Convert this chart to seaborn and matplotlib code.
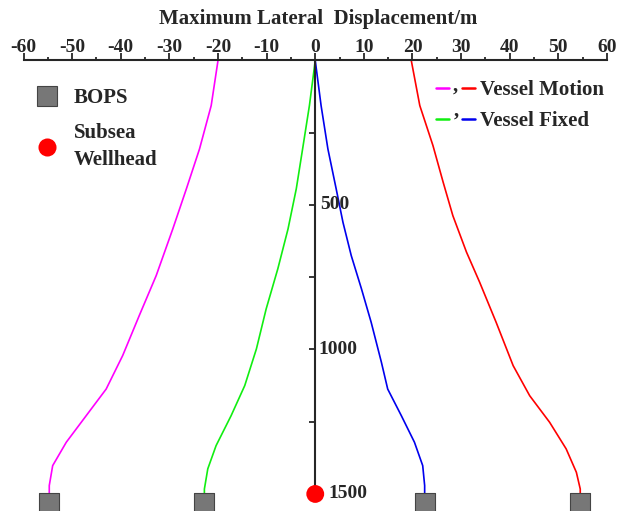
import numpy as np
import pandas as pd
import matplotlib
matplotlib.use("Agg")
import matplotlib.pyplot as plt
import seaborn as sns
from matplotlib.lines import Line2D
from matplotlib.legend_handler import HandlerTuple

# ── Data ──────────────────────────────────────────────────────────────────────
depth_red = [0, 156, 294, 421, 537, 663, 767, 906, 1056, 1160, 1252, 1344, 1425, 1483, 1500]
disp_red  = [19.75, 21.5, 24.2, 26.3, 28.3, 31.1, 33.8, 37.2, 40.7, 44.1, 48.2, 51.6, 53.7, 54.5, 54.5]

depth_magenta = [0, 156, 306, 444, 583, 744, 883, 1021, 1137, 1229, 1321, 1402, 1471, 1500]
disp_magenta  = [-20.0, -21.4, -23.8, -26.5, -29.3, -32.7, -36.2, -39.6, -43.0, -47.1, -51.2, -54.0, -54.7, -54.7]

depth_blue = [0, 156, 306, 444, 560, 675, 790, 906, 1044, 1137, 1229, 1321, 1402, 1471, 1500]
disp_blue  = [0.0, 1.2, 2.6, 4.3, 5.7, 7.4, 9.5, 11.5, 13.6, 14.9, 17.7, 20.4, 22.1, 22.5, 22.5]

depth_green = [0, 156, 306, 444, 583, 721, 860, 998, 1125, 1229, 1333, 1413, 1483, 1500]
disp_green  = [0.0, -1.2, -2.6, -3.9, -5.6, -7.7, -10.1, -12.1, -14.5, -17.3, -20.4, -22.1, -22.8, -22.8]

bops_x     = [-54.7, -22.8, 22.5, 54.5]
bops_depth = [1530, 1530, 1530, 1530]
wellhead_x, wellhead_depth = [0], [1500]

curves = {
    "vm_neg": (disp_magenta, depth_magenta),
    "vm_pos": (disp_red, depth_red),
    "vf_neg": (disp_green, depth_green),
    "vf_pos": (disp_blue, depth_blue),
}
palette = {"vm_neg": "#ff00ff", "vm_pos": "#ff0000",
           "vf_neg": "#11ee11", "vf_pos": "#0000ee"}

rows = []
for name, (xs, ys) in curves.items():
    for x, y in zip(xs, ys):
        rows.append({"curve": name, "disp": x, "depth": y})
df = pd.DataFrame(rows)

# ── Plot ──────────────────────────────────────────────────────────────────────
sns.set_style("white")
plt.rcParams["font.family"] = ["Liberation Serif", "DejaVu Serif"]
plt.rcParams["font.weight"] = "bold"
plt.rcParams["axes.unicode_minus"] = False

W, H = 619, 511
fig = plt.figure(figsize=(W / 100, H / 100), dpi=100)
ax = fig.add_axes([23.5 / W, 0.0, (607 - 23.5) / W, 1 - 60.5 / H])

for name in curves:
    sub = df[df["curve"] == name]
    sns.lineplot(data=sub, x="disp", y="depth", sort=False, estimator=None,
                 color=palette[name], lw=1.2, ax=ax, legend=False)

sns.scatterplot(x=bops_x, y=bops_depth, marker="s", s=200, color="#777777",
                edgecolor="#444444", linewidth=0.8, ax=ax, clip_on=False,
                zorder=5, legend=False)
sns.scatterplot(x=wellhead_x, y=wellhead_depth, marker="o", s=165,
                color="#ff0000", edgecolor="none", ax=ax, clip_on=False,
                zorder=6, legend=False)

ax.set_xlim(-60, 60)
ax.set_ylim(1559, 0)
ax.set_xlabel("")
ax.set_ylabel("")

# top axis
ax.spines["bottom"].set_visible(False)
ax.spines["right"].set_visible(False)
ax.spines["top"].set_linewidth(1.5)
ax.xaxis.set_ticks_position("top")
ax.set_xticks(np.arange(-60, 61, 10))
ax.set_xticks(np.arange(-55, 60, 10), minor=True)
ax.tick_params(axis="x", which="major", direction="out", length=5, width=1.3,
               labelsize=14, pad=-1.5)
ax.tick_params(axis="x", which="minor", direction="out", length=2.5, width=1.3)
for lbl in ax.get_xticklabels():
    lbl.set_fontweight("bold")

# vertical axis through x = 0
ax.spines["left"].set_position(("data", 0))
ax.spines["left"].set_bounds(0, 1500)
ax.spines["left"].set_linewidth(1.5)
ax.set_yticks([500, 1000, 1500])
ax.set_yticks([250, 750, 1250], minor=True)
ax.yaxis.set_ticks_position("left")
ax.tick_params(axis="y", which="both", direction="out", length=4, width=1.3,
               labelleft=False)
for val, off in [(500, 1.1), (1000, 0.6), (1500, 2.7)]:
    ax.text(off, val, str(val), fontsize=14, fontweight="bold",
            va="center", ha="left")

fig.text(318 / W, 1 - 19 / H, "Maximum Lateral  Displacement/m", ha="center",
         va="center", fontsize=15, fontweight="bold")

# legends
h_bops = Line2D([], [], ls="none", marker="s", ms=15, mfc="#777777",
                mec="#444444", mew=0.8)
h_well = Line2D([], [], ls="none", marker="o", ms=13, mfc="#ff0000", mec="none")
leg1 = fig.legend([h_bops, h_well], ["BOPS", "Subsea\nWellhead"],
                  loc="upper left", bbox_to_anchor=(22 / W, 1 - 78 / H),
                  frameon=False, prop={"size": 15, "weight": "bold"},
                  labelspacing=0.7, handletextpad=0.6, borderpad=0,
                  handlelength=1.4)
for t in leg1.get_texts():
    t.set_linespacing(1.45)

seg = lambda c: Line2D([], [], color=c, lw=1.8)
leg2 = fig.legend([(seg("#ff00ff"), seg("#ff0000")),
                   (seg("#11ee11"), seg("#0000ee"))],
                  ["Vessel Motion", "Vessel Fixed"],
                  handler_map={tuple: HandlerTuple(ndivide=None, pad=0.6)},
                  loc="upper left", bbox_to_anchor=(426 / W, 1 - 70 / H),
                  frameon=False, prop={"size": 15, "weight": "bold"},
                  handlelength=1.85, labelspacing=0.5, handletextpad=0.25,
                  borderpad=0)
fig.text(455 / W, 1 - 91 / H, ",", fontsize=15, fontweight="bold",
         ha="center", va="baseline")
fig.text(456 / W, 1 - 127 / H, "\u2019", fontsize=15, fontweight="bold",
         ha="center", va="baseline")

fig.savefig("out.png", dpi=100)
